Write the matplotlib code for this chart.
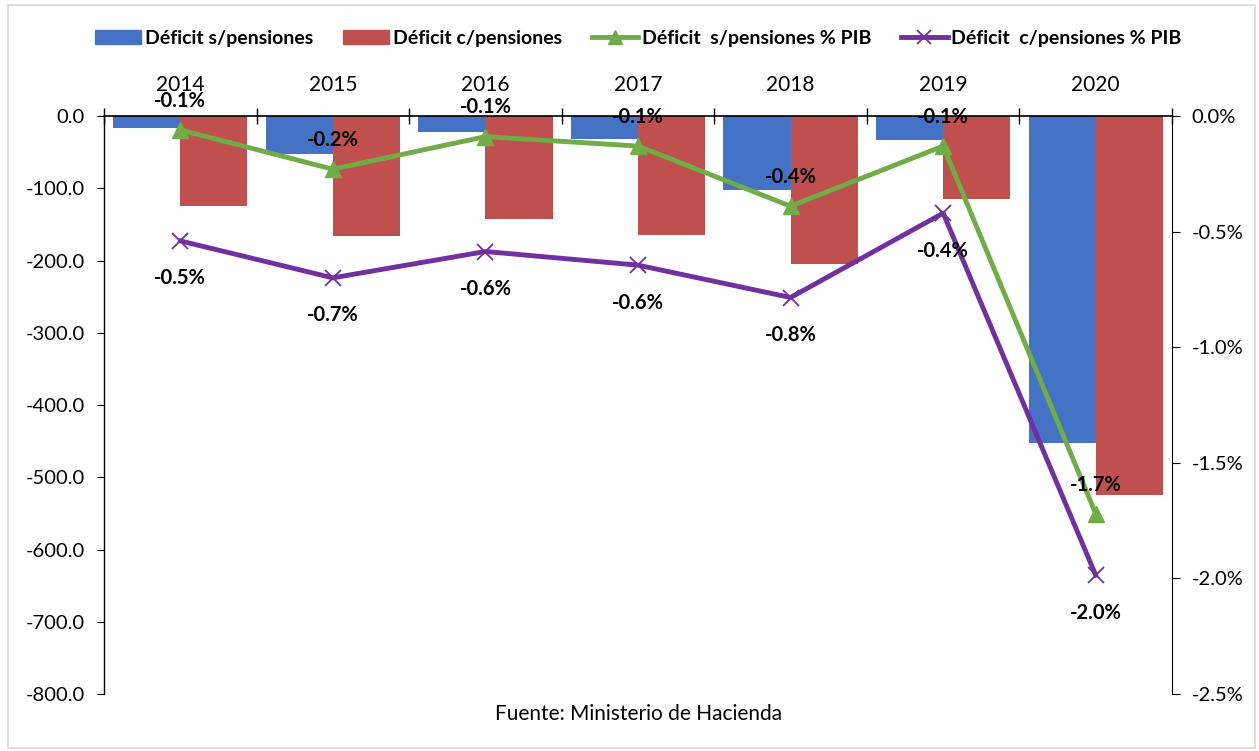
import numpy as np
import matplotlib
matplotlib.use("Agg")
import matplotlib.pyplot as plt
from matplotlib.patches import Patch, Rectangle
from matplotlib.lines import Line2D
from matplotlib.ticker import FuncFormatter, FixedLocator

plt.rcParams['font.family'] = ['Lato', 'DejaVu Sans']

years = ['2014', '2015', '2016', '2017', '2018', '2019', '2020']
deficit_s = [-16, -53, -22, -32, -103, -33, -453]
deficit_c = [-125, -166, -143, -164, -205, -115, -524]
pct_s = [-0.06, -0.23, -0.089, -0.13, -0.39, -0.13, -1.72]
pct_c = [-0.54, -0.70, -0.586, -0.645, -0.785, -0.42, -1.986]

c_blue = '#4472C4'
c_red = '#C0504D'
c_green = '#70AD47'
c_purple = '#7030A0'

fig = plt.figure(figsize=(12.59, 7.51), dpi=100)
ax = fig.add_axes([0.0826, 0.0759, 0.8483, 0.7696])
x = np.arange(len(years))
w = 0.44

ax.bar(x - w / 2, deficit_s, width=w, color=c_blue)
ax.bar(x + w / 2, deficit_c, width=w, color=c_red)
ax.set_xlim(-0.5, len(years) - 0.5)
ax.set_ylim(-800, 0)
ax.set_yticks(np.arange(-800, 1, 100))
ax.yaxis.set_major_formatter(FuncFormatter(lambda v, p: f'{v:.1f}'))
ax.tick_params(axis='y', direction='out', length=5, pad=9, labelsize=14.5, colors='black')

# category axis on top, sitting at zero
ax.xaxis.tick_top()
ax.set_xticks(x)
ax.set_xticklabels(years)
ax.xaxis.set_minor_locator(FixedLocator(np.arange(-0.5, len(years), 1.0)))
ax.tick_params(axis='x', which='major', length=0, pad=15, labelsize=15)
ax.tick_params(axis='x', which='minor', direction='inout', length=11, width=1)
for s in ['bottom', 'right']:
    ax.spines[s].set_visible(False)
ax.spines['top'].set_linewidth(1.2)
ax.spines['left'].set_linewidth(1.0)

ax2 = ax.twinx()
ax2.set_ylim(-2.5, 0)
ax2.set_yticks(np.arange(-2.5, 0.01, 0.5))
ax2.yaxis.set_major_formatter(FuncFormatter(lambda v, p: f'{v:.1f}%'))
ax2.tick_params(axis='y', direction='out', length=6, pad=8, labelsize=14.5)
for s in ['bottom', 'left', 'top']:
    ax2.spines[s].set_visible(False)

ax2.plot(x, pct_s, color=c_green, lw=3.5, marker='^', markersize=12, zorder=3)
ax2.plot(x, pct_c, color=c_purple, lw=3.5, marker='x', markersize=12,
         markeredgewidth=1.3, zorder=3)

for xi, v in zip(x, pct_s):
    ax2.annotate(f'{v:.1f}%', (xi, v), xytext=(0, 21), textcoords='offset points',
                 ha='center', va='center', fontsize=14.5, fontweight='bold', zorder=5)
for xi, v in zip(x, pct_c):
    ax2.annotate(f'{v:.1f}%', (xi, v), xytext=(0, -27), textcoords='offset points',
                 ha='center', va='center', fontsize=14.5, fontweight='bold', zorder=5)

handles = [
    Patch(color=c_blue),
    Patch(color=c_red),
    Line2D([], [], color=c_green, lw=3.5, marker='^', markersize=10),
    Line2D([], [], color=c_purple, lw=3.5, marker='x', markersize=10, markeredgewidth=1.3),
]
labels = ['Déficit s/pensiones', 'Déficit c/pensiones',
          'Déficit  s/pensiones % PIB', 'Déficit  c/pensiones % PIB']
fig.legend(handles, labels, loc='center', bbox_to_anchor=(0.507, 0.949), ncol=4,
           frameon=False, handlelength=2.4, handletextpad=0.2, columnspacing=1.5,
           prop={'weight': 'bold', 'size': 14})

fig.text(0.507, 0.049, 'Fuente: Ministerio de Hacienda', ha='center', va='center', fontsize=15)

fig.patches.append(Rectangle((0.0064, 0.004), 0.9905, 0.99, transform=fig.transFigure,
                             fill=False, edgecolor='#d9d9d9', lw=1.2))

fig.savefig('out.png', dpi=100)
